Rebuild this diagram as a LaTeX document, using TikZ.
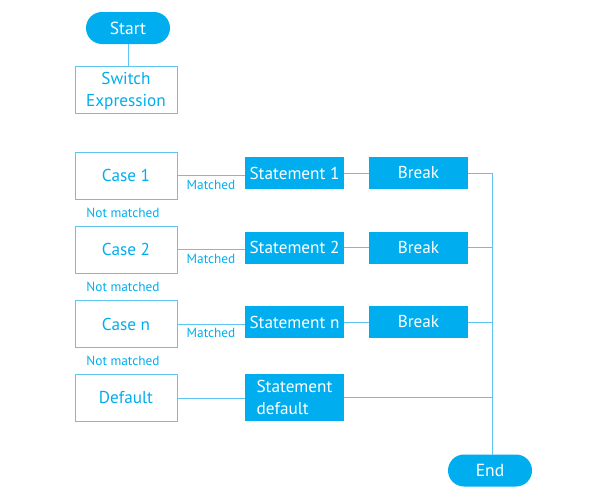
\documentclass[tikz,border=0pt]{standalone}
\usepackage{fontspec}
\setmainfont{PT Sans}
\usetikzlibrary{shapes.misc}
\definecolor{cblue}{HTML}{00AEEF}
\definecolor{lblue}{HTML}{5CC6F0}
\begin{document}
\begin{tikzpicture}[x=1pt,y=-1pt,
 term/.style={rounded rectangle, fill=cblue, text=white, minimum width=84pt, minimum height=32pt, inner sep=0pt, font=\fontsize{17.5}{20}\selectfont},
 wbox/.style={draw=lblue, line width=1pt, fill=white, text=cblue, minimum width=102pt, minimum height=47pt, inner sep=0pt, align=center, font=\fontsize{17.2}{22}\selectfont},
 bbox/.style={fill=cblue, text=white, minimum width=99pt, minimum height=32pt, inner sep=0pt, align=center, font=\fontsize{17.2}{22}\selectfont},
 lab/.style={text=cblue, inner sep=0pt, font=\fontsize{13.3}{14}\selectfont},
 conn/.style={draw=lblue, line width=1pt}]
\useasboundingbox (0,0) rectangle (596,496);
\node[term] (start) at (128,28) {Start};
\node[wbox] (sw) at (126,89.5) {\rule{0pt}{15pt}Switch\\Expression};
\node[wbox] (c1) at (126,175.5) {Case 1};
\node[wbox] (c2) at (126,249.5) {Case 2};
\node[wbox] (cn) at (126,324) {Case n};
\node[wbox] (cd) at (126,398) {Default};
\node[bbox] (s1) at (294.5,173) {Statement 1};
\node[bbox] (s2) at (294.5,247.5) {Statement 2};
\node[bbox] (sn) at (294.5,322) {Statement n};
\node[bbox, minimum height=47pt, align=left] (sd) at (294.5,397.5) {Statement\\default};
\node[bbox] (b1) at (418.5,173) {Break};
\node[bbox] (b2) at (418.5,247.5) {Break};
\node[bbox] (bn) at (418.5,322) {Break};
\node[term] (end) at (490,470.5) {End};
\node[lab] (m1) at (211,185) {Matched};
\node[lab] (m2) at (211,259) {Matched};
\node[lab] (mn) at (211,333) {Matched};
\node[lab] (n1) at (123,213) {Not matched};
\node[lab] (n2) at (123,287) {Not matched};
\node[lab] (nn) at (123,361) {Not matched};
\coordinate (jtop) at (492,173);
\coordinate (jbot) at (492,454.5);
\draw[conn] (start.south) -- (start.south |- sw.north);
\draw[conn] (c1.east) -- (c1.east -| s1.west);
\draw[conn] (c2.east) -- (c2.east -| s2.west);
\draw[conn] (cn.east) -- (cn.east -| sn.west);
\draw[conn] (cd.east) -- (cd.east -| sd.west);
\draw[conn] (s1.east) -- (b1.west);
\draw[conn] (s2.east) -- (b2.west);
\draw[conn] (sn.east) -- (bn.west);
\draw[conn] (b1.east) -- (jtop) -- (jbot);
\draw[conn] (b2.east) -- (b2.east -| jtop);
\draw[conn] (bn.east) -- (bn.east -| jtop);
\draw[conn] (sd.east) -- (sd.east -| jtop);
\end{tikzpicture}
\end{document}
